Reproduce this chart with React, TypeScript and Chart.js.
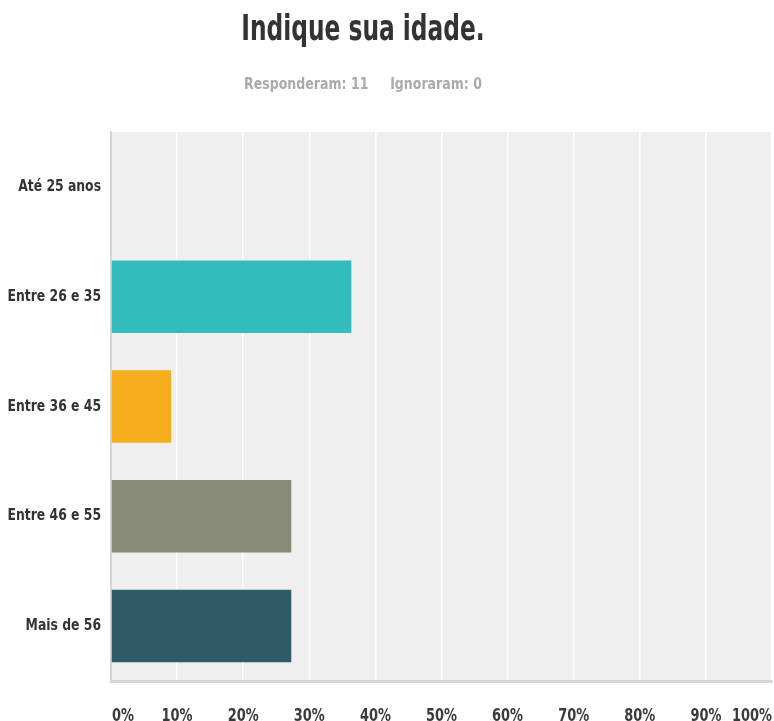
import React, { useEffect, useRef } from "react";
import { Chart, registerables } from "chart.js";

Chart.register(...registerables);

const TITLE = "Indique sua idade.";
const SUBTITLE_ANSWERED = "Responderam: 11";
const SUBTITLE_SKIPPED = "Ignoraram: 0";
const categories = ["Até 25 anos", "Entre 26 e 35", "Entre 36 e 45", "Entre 46 e 55", "Mais de 56"];
const percentages = [0, 36.36, 9.09, 27.27, 27.27];
const barColors = ["#32bcbc", "#32bcbc", "#f6ae1e", "#888a78", "#2d5c68"];
const xTicks = [0, 10, 20, 30, 40, 50, 60, 70, 80, 90, 100];

const FONT = "'Liberation Sans Narrow', 'DejaVu Sans Condensed', 'Roboto', sans-serif";

export default function App() {
  const ref = useRef<HTMLCanvasElement | null>(null);

  useEffect(() => {
    if (!ref.current) return;
    const bgPlugin = {
      id: "plotBg",
      beforeDraw(chart: any) {
        const { ctx, chartArea } = chart;
        ctx.save();
        ctx.fillStyle = "#efefef";
        ctx.fillRect(chartArea.left, chartArea.top, chartArea.right - chartArea.left, chartArea.bottom - chartArea.top);
        ctx.restore();
      },
      afterDraw(chart: any) {
        const { ctx, chartArea } = chart;
        const xs = chart.scales.x;
        const ys = chart.scales.y;
        // x tick labels (condensed, kept inside the plot edges)
        const sx = 0.8;
        ctx.save();
        ctx.font = `bold 18px ${FONT}`;
        ctx.fillStyle = "#3a3a3a";
        ctx.textBaseline = "middle";
        ctx.textAlign = "center";
        for (const t of xTicks) {
          const label = `${t}%`;
          const w = ctx.measureText(label).width * sx;
          let x = xs.getPixelForValue(t);
          x = Math.max(chartArea.left + 1 + w / 2, Math.min(chartArea.right - w / 2, x));
          ctx.save();
          ctx.translate(x, chartArea.bottom + 35);
          ctx.scale(sx, 1);
          ctx.fillText(label, 0, 0);
          ctx.restore();
        }
        ctx.restore();
        // y category labels
        const sy = 0.86;
        ctx.save();
        ctx.font = `bold 16px ${FONT}`;
        ctx.fillStyle = "#333333";
        ctx.textBaseline = "middle";
        ctx.textAlign = "right";
        categories.forEach((c, i) => {
          const y = ys.getPixelForValue(i);
          ctx.save();
          ctx.translate(chartArea.left - 10, y);
          ctx.scale(sy, 1);
          ctx.fillText(c, 0, 0);
          ctx.restore();
        });
        ctx.restore();
      },
    };

    const chart = new Chart(ref.current, {
      type: "bar",
      data: {
        labels: categories,
        datasets: [
          {
            data: percentages,
            backgroundColor: barColors,
            borderWidth: 0,
            barPercentage: 0.66,
            categoryPercentage: 1,
          },
        ],
      },
      options: {
        indexAxis: "y",
        responsive: false,
        animation: false,
        layout: { padding: { top: 132, right: 2, left: 0, bottom: 0 } },
        plugins: {
          legend: { display: false },
          title: { display: false },
          tooltip: { enabled: false },
        },
        scales: {
          x: {
            min: 0,
            max: 100,
            ticks: { stepSize: 10, display: false },
            grid: { color: "#ffffff", lineWidth: 1.5, drawTicks: false },
            border: { display: true, color: "#d6d6d6", width: 3 },
            afterFit(scale: any) {
              scale.height = 40;
            },
          },
          y: {
            grid: { display: false, drawTicks: false },
            border: { display: true, color: "#d6d6d6", width: 2 },
            ticks: { display: false },
            afterFit(scale: any) {
              scale.width = 111;
            },
          },
        },
      },
      plugins: [bgPlugin],
    } as any);
    return () => chart.destroy();
  }, []);

  return (
    <div style={{ position: "absolute", left: 0, top: 0, width: 774, height: 721, background: "#fff" }}>
      <canvas ref={ref} width={774} height={721} style={{ position: "absolute", left: 0, top: 0, width: 774, height: 721 }} />
      <div
        style={{
          position: "absolute",
          left: 0,
          top: 8,
          width: 726,
          textAlign: "center",
          fontFamily: FONT,
          fontWeight: "bold",
          fontSize: 36,
          color: "#333333",
          lineHeight: "40px",
          transform: "scaleX(0.72)",
          transformOrigin: "363px 0",
        }}
      >
        {TITLE}
      </div>
      <div
        style={{
          position: "absolute",
          left: 0,
          top: 74,
          width: 726,
          textAlign: "center",
          fontFamily: FONT,
          fontWeight: "bold",
          fontSize: 15,
          color: "#aaaaaa",
          lineHeight: "20px",
          whiteSpace: "pre",
          transform: "scaleX(0.93)",
          transformOrigin: "363px 0",
        }}
      >
        {SUBTITLE_ANSWERED + "     " + SUBTITLE_SKIPPED}
      </div>
    </div>
  );
}
